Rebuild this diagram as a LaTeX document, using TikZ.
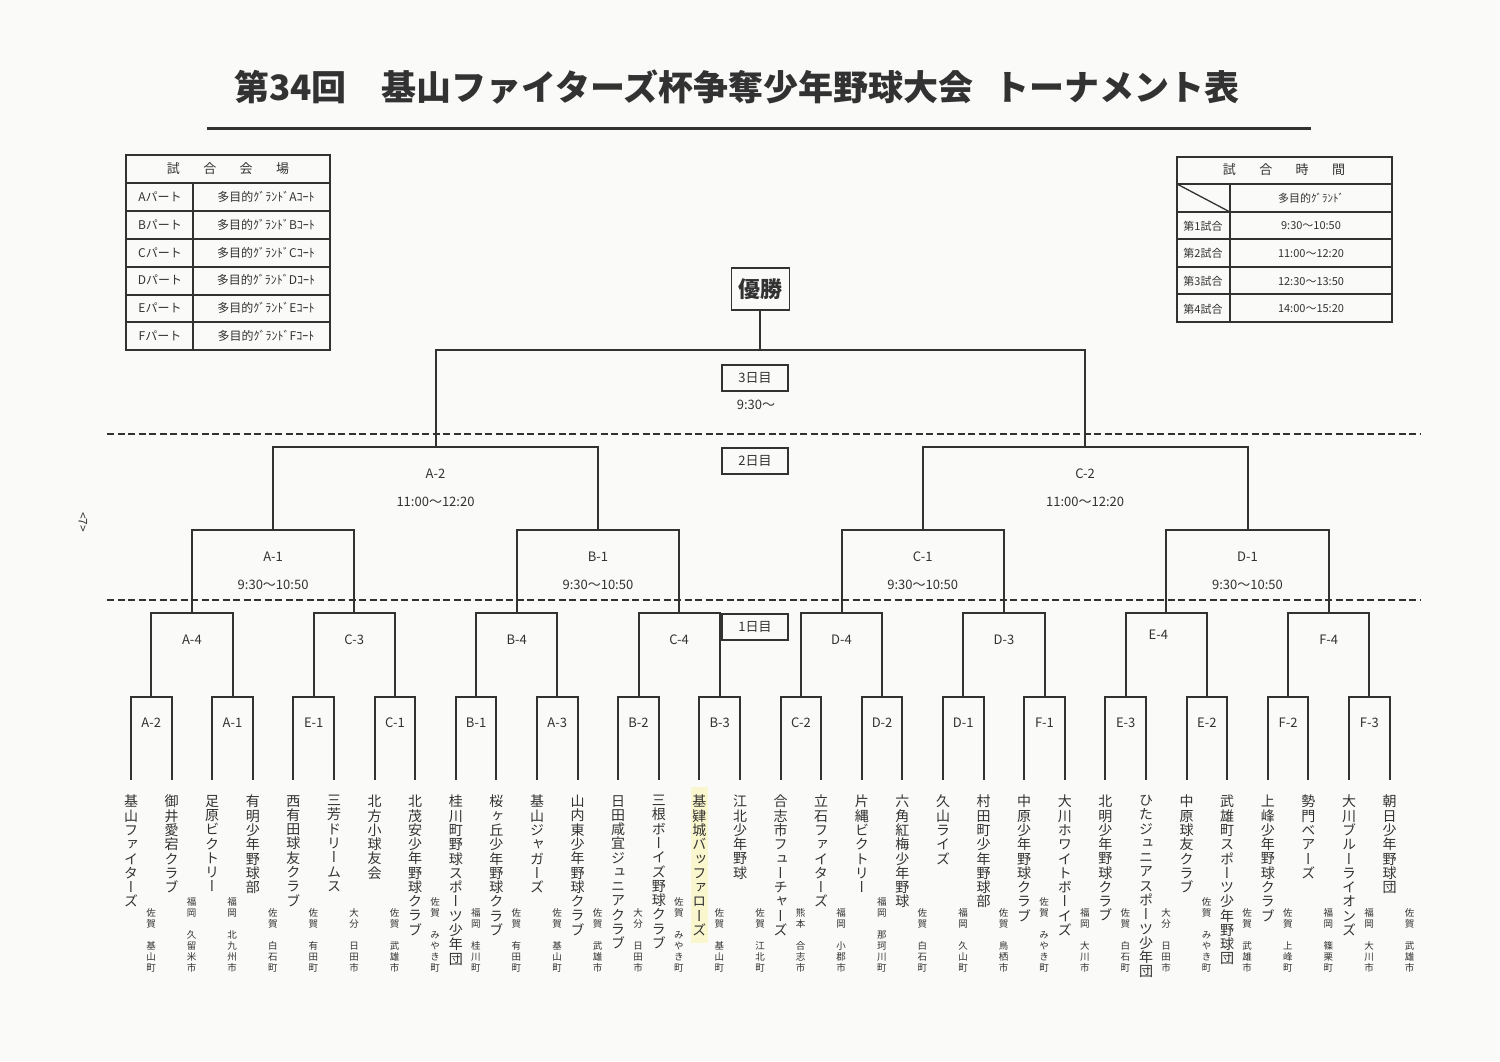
\documentclass[tikz,border=0pt]{standalone}
\usepackage{fontspec}
\setmainfont{Noto Sans CJK JP}
\newfontfamily\tatefont[RawFeature=+vert]{Noto Sans CJK JP}
\definecolor{ink}{RGB}{50,50,50}
\definecolor{paper}{RGB}{250,250,249}
\definecolor{hilite}{RGB}{250,246,205}

% one character per line, for the names written top to bottom
\ExplSyntaxOn
\NewDocumentCommand{\tate}{O{1.02}m}{
  \vbox{\baselineskip=#1em \lineskip=0pt \lineskiplimit=-100pt
    \exp_args:No \tl_map_inline:nn {#2} {\hbox_to_wd:nn {1em} {\hss ##1 \hss}}}
}
\ExplSyntaxOff

\begin{document}
\begin{tikzpicture}[x=1pt, y=-1pt,
  br/.style={draw=ink, line width=2pt},
  tbl/.style={draw=ink, line width=1.3pt},
  sep/.style={draw=ink, line width=1.8pt, dash pattern=on 7pt off 3.5pt},
  lbl/.style={text=ink, inner sep=0pt, font=\fontsize{13}{15}\selectfont},
  cell/.style={text=ink, inner sep=0pt, font=\fontsize{12}{14}\selectfont},
  small/.style={text=ink, inner sep=0pt, font=\fontsize{11}{13}\selectfont},
  daybox/.style={draw=ink, line width=1.3pt, minimum width=66pt, minimum height=26pt, inner sep=0pt, text=ink, font=\fontsize{13}{15}\selectfont},
  team/.style={anchor=north, inner sep=0pt, text=ink, font=\tatefont\fontsize{14}{14}\selectfont},
  addr/.style={anchor=south, inner sep=0pt, text=ink, font=\tatefont\fontsize{9.5}{10}\selectfont}]
\fill[paper] (0,0) rectangle (1500,1061);
\useasboundingbox (0,0) rectangle (1500,1061);

% title
\node[text=ink, font=\fontsize{35}{40}\selectfont\bfseries] (title) at (737,87) {第34回　基山ファイターズ杯争奪少年野球大会\hspace{0.6em}トーナメント表};
\draw[ink, line width=3pt] (207,128) -- (1311,128);
\node[lbl, rotate=-90, font=\fontsize{12}{14}\selectfont] (page) at (83,522) {<7>};

% venues
\draw[tbl] (126,155) rectangle (330,350);
\foreach \y in {183,211,239,267,295,322} \draw[tbl] (126,\y) -- (330,\y);
\draw[tbl] (193,183) -- (193,350);
\node[lbl] (venue) at (228,169) {試\hspace{1.8em}合\hspace{1.8em}会\hspace{1.8em}場};
\foreach \p [count=\i] in {A,B,C,D,E,F} {
  \node[cell] (part\i) at (160,{169+27.8*\i}) {\p{}パート};
  \node[cell] (court\i) at (266,{169+27.8*\i}) {多目的ｸﾞﾗﾝﾄﾞ\p{}ｺｰﾄ};
}

% game times
\draw[tbl] (1177,157) rectangle (1392,322);
\foreach \y in {184,212,239,267,294} \draw[tbl] (1177,\y) -- (1392,\y);
\draw[tbl] (1230,184) -- (1230,322);
\draw[tbl] (1177,184) -- (1230,212);
\node[lbl] (timehd) at (1284,170) {試\hspace{1.8em}合\hspace{1.8em}時\hspace{1.8em}間};
\node[small] (ground) at (1311,198) {多目的ｸﾞﾗﾝﾄﾞ};
\foreach \t [count=\i] in {9:30～10:50,11:00～12:20,12:30～13:50,14:00～15:20} {
  \node[small] (game\i) at (1203,{198.4+27.6*\i}) {第\i{}試合};
  \node[small] (slot\i) at (1311,{198.4+27.6*\i}) {\t};
}

% bracket points
\foreach \i in {0,...,31} \coordinate (leaf\i) at ({131+40.6*\i},780);
\foreach \i in {0,...,15} \coordinate (r1m\i) at ({151.3+81.2*\i},697);
\foreach \i in {0,...,7} \coordinate (r2m\i) at ({191.9+162.4*\i},613);
\foreach \i in {0,...,3} \coordinate (r3m\i) at ({273.1+324.8*\i},530);
\foreach \i in {0,1} \coordinate (r4m\i) at ({435.5+649.6*\i},447);
\coordinate (r5m) at (760.3,350);

\foreach \i in {0,...,15} {
  \pgfmathtruncatemacro\a{2*\i}\pgfmathtruncatemacro\b{2*\i+1}
  \draw[br] (leaf\a) |- (r1m\i) -| (leaf\b);
}
\foreach \i in {0,...,7} {
  \pgfmathtruncatemacro\a{2*\i}\pgfmathtruncatemacro\b{2*\i+1}
  \draw[br] (r1m\a) |- (r2m\i) -| (r1m\b);
}
\foreach \i in {0,...,3} {
  \pgfmathtruncatemacro\a{2*\i}\pgfmathtruncatemacro\b{2*\i+1}
  \draw[br] (r2m\a) |- (r3m\i) -| (r2m\b);
}
\foreach \i in {0,1} {
  \pgfmathtruncatemacro\a{2*\i}\pgfmathtruncatemacro\b{2*\i+1}
  \draw[br] (r3m\a) |- (r4m\i) -| (r3m\b);
}
\draw[br] (r4m0) |- (r5m) -| (r4m1);

\node[draw=ink, line width=1.6pt, minimum width=58pt, minimum height=42pt, inner sep=0pt, text=ink, font=\fontsize{22}{24}\selectfont\bfseries] (yusho) at (760.3,289) {優勝};
\draw[br] (yusho) -- (r5m);

% match labels
\foreach \lb [count=\i from 0] in {A-2,A-1,E-1,C-1,B-1,A-3,B-2,B-3,C-2,D-2,D-1,F-1,E-3,E-2,F-2,F-3}
  \node[lbl] (g1\i) at ({151.3+81.2*\i},723) {\lb};
\foreach \lb/\dx/\dy [count=\i from 0] in {A-4/0/0,C-3/0/0,B-4/0/0,C-4/0/0,D-4/0/0,D-3/0/0,E-4/-8/-5,F-4/0/0}
  \node[lbl] (g2\i) at ({191.9+162.4*\i+\dx},{640+\dy}) {\lb};
\foreach \lb [count=\i from 0] in {A-1,B-1,C-1,D-1} {
  \node[lbl] (g3\i) at ({273.1+324.8*\i},557) {\lb};
  \node[lbl] (s3\i) at ({273.1+324.8*\i},585) {9:30～10:50};
}
\foreach \lb [count=\i from 0] in {A-2,C-2} {
  \node[lbl] (g4\i) at ({435.5+649.6*\i},474) {\lb};
  \node[lbl] (s4\i) at ({435.5+649.6*\i},502) {11:00～12:20};
}

% days
\draw[sep] (107,434) -- (1420,434);
\draw[sep] (107,600) -- (1420,600);
\node[daybox] (day3) at (755,378) {3日目};
\node[lbl] (start3) at (756,405) {9:30～};
\node[daybox] (day2) at (755,461) {2日目};
\node[daybox] (day1) at (755,627) {1日目};

% teams
\fill[hilite] (691,787) rectangle (708,943);
\foreach \nm/\ad [count=\i from 0] in {基山ファイターズ/佐賀　基山町,御井愛宕クラブ/福岡　久留米市,足原ビクトリー/福岡　北九州市,有明少年野球部/佐賀　白石町,西有田球友クラブ/佐賀　有田町,三芳ドリームス/大分　日田市,北方小球友会/佐賀　武雄市,北茂安少年野球クラブ/佐賀　みやき町,桂川町野球スポーツ少年団/福岡　桂川町,桜ヶ丘少年野球クラブ/佐賀　有田町,基山ジャガーズ/佐賀　基山町,山内東少年野球クラブ/佐賀　武雄市,日田咸宜ジュニアクラブ/大分　日田市,三根ボーイズ野球クラブ/佐賀　みやき町,基肄城バッファローズ/佐賀　基山町,江北少年野球/佐賀　江北町,合志市フューチャーズ/熊本　合志市,立石ファイターズ/福岡　小郡市,片縄ビクトリー/福岡　那珂川町,六角紅梅少年野球/佐賀　白石町,久山ライズ/福岡　久山町,村田町少年野球部/佐賀　鳥栖市,中原少年野球クラブ/佐賀　みやき町,大川ホワイトボーイズ/福岡　大川市,北明少年野球クラブ/佐賀　白石町,ひたジュニアスポーツ少年団/大分　日田市,中原球友クラブ/佐賀　みやき町,武雄町スポーツ少年野球団/佐賀　武雄市,上峰少年野球クラブ/佐賀　上峰町,勢門ベアーズ/福岡　篠栗町,大川ブルーライオンズ/福岡　大川市,朝日少年野球団/佐賀　武雄市} {
  \node[team] (team\i) at ({131+40.6*\i},795) {\tate{\nm}};
  \node[addr] (addr\i) at ({151+40.6*\i},972) {\tate[1.15]{\ad}};
}
\end{tikzpicture}
\end{document}
